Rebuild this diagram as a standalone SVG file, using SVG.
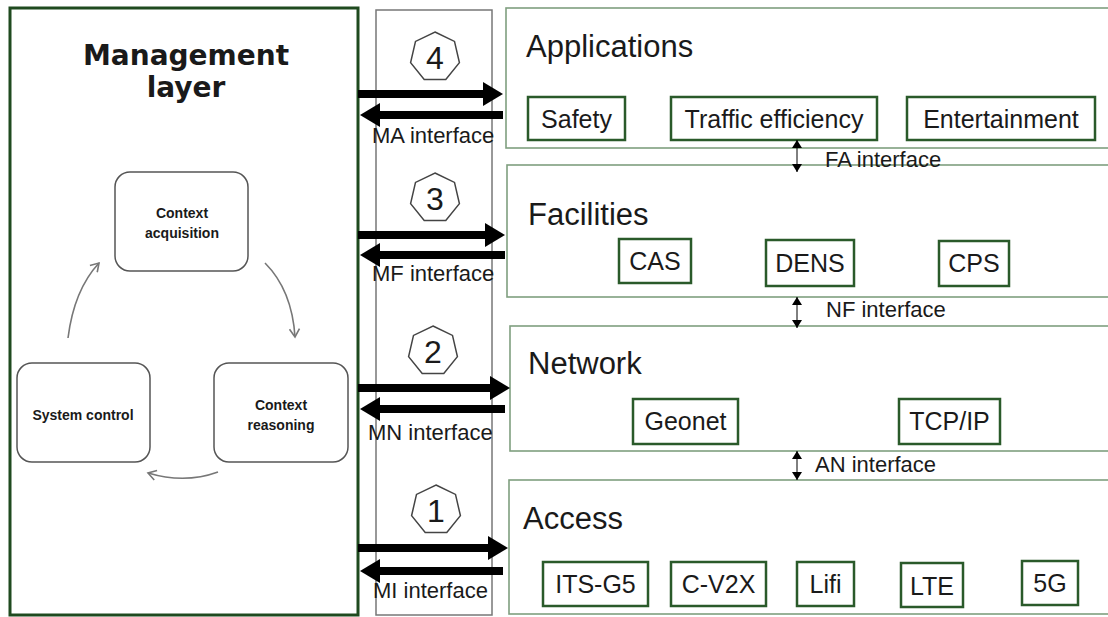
<svg xmlns="http://www.w3.org/2000/svg" width="1108" height="617" viewBox="0 0 1108 617">
<style>
text{font-family:"Liberation Sans",Arial,sans-serif;fill:#1a1a1a}
.mgmt{fill:#fff;stroke:#1f4a1f;stroke-width:3}
.col{fill:none;stroke:#777;stroke-width:1.5}
.layer{fill:#fff;stroke:#7f9f7f;stroke-width:1.6}
.sub{fill:#fff;stroke:#2a5a2a;stroke-width:2.5}
.inner{fill:#fff;stroke:#555;stroke-width:1.5}
.title{font-size:31px}
.subt{font-size:25px;text-anchor:middle}
.lbl{font-size:22px}
.ib{font-size:14px;font-weight:bold;text-anchor:middle}
.hept{fill:#fff;stroke:#444;stroke-width:1.5}
.num{font-size:32px;text-anchor:middle}
.thick{stroke:#000;stroke-width:8;fill:none}
.thin{stroke:#000;stroke-width:1;fill:none}
.curve{stroke:#777;stroke-width:1.6;fill:none}
</style>
<defs>
<marker id="bigHead" markerUnits="userSpaceOnUse" markerWidth="20" markerHeight="24" refX="0" refY="12" orient="auto">
<path d="M0,0 L20,12 L0,24 z" fill="#000"/>
</marker>
<marker id="smallHead" markerUnits="userSpaceOnUse" markerWidth="8" markerHeight="10" refX="8" refY="5" orient="auto-start-reverse">
<path d="M0,0 L8,5 L0,10 z" fill="#000"/>
</marker>
<marker id="openHead" markerUnits="userSpaceOnUse" markerWidth="12" markerHeight="12" refX="9" refY="6" orient="auto">
<path d="M1,1 L9,6 L1,11" fill="none" stroke="#777" stroke-width="1.6"/>
</marker>
<polygon id="hep" points="0,-25 19.5,-15.6 24.4,5.6 10.8,22.5 -10.8,22.5 -24.4,5.6 -19.5,-15.6"/>
</defs>

<g id="management">
<rect class="mgmt" x="10" y="8" width="348" height="607"/>
<text x="186" y="65" text-anchor="middle" style="font-family:'DejaVu Sans',Verdana,sans-serif;font-size:28px;font-weight:bold">Management</text>
<text x="186" y="97" text-anchor="middle" style="font-family:'DejaVu Sans',Verdana,sans-serif;font-size:28px;font-weight:bold">layer</text>
</g>
<g id="context-acquisition">
<rect class="inner" x="115" y="172" width="133" height="99" rx="15"/>
<text class="ib" x="182" y="218">Context</text>
<text class="ib" x="182" y="238">acquisition</text>
</g>
<g id="system-control">
<rect class="inner" x="17" y="363" width="133" height="99" rx="15"/>
<text class="ib" x="83" y="420">System control</text>
</g>
<g id="context-reasoning">
<rect class="inner" x="214" y="363" width="134" height="99" rx="15"/>
<text class="ib" x="281" y="410">Context</text>
<text class="ib" x="281" y="430">reasoning</text>
</g>

<g id="interface-column">
<rect class="col" x="376" y="10" width="116" height="605"/>
</g>

<g id="applications">
<rect class="layer" x="506" y="8" width="610" height="140"/>
<text class="title" x="526" y="57">Applications</text>
<rect class="sub" x="528" y="97" width="97" height="43"/>
<text class="subt" x="576.5" y="128">Safety</text>
<rect class="sub" x="671" y="97" width="206" height="43"/>
<text class="subt" x="774" y="128">Traffic efficiency</text>
<rect class="sub" x="907" y="97" width="188" height="43"/>
<text class="subt" x="1001" y="128">Entertainment</text>
</g>

<g id="facilities">
<rect class="layer" x="507" y="165" width="610" height="132"/>
<text class="title" x="528" y="225">Facilities</text>
<rect class="sub" x="619" y="239" width="72" height="44"/>
<text class="subt" x="655" y="270">CAS</text>
<rect class="sub" x="766" y="240" width="88" height="46"/>
<text class="subt" x="810" y="272">DENS</text>
<rect class="sub" x="939" y="241" width="70" height="45"/>
<text class="subt" x="974" y="272">CPS</text>
</g>

<g id="network">
<rect class="layer" x="510" y="326" width="610" height="125"/>
<text class="title" x="528" y="374">Network</text>
<rect class="sub" x="633" y="399" width="105" height="45"/>
<text class="subt" x="685.5" y="430">Geonet</text>
<rect class="sub" x="899" y="399" width="101" height="45"/>
<text class="subt" x="949.5" y="430">TCP/IP</text>
</g>

<g id="access">
<rect class="layer" x="509" y="480" width="610" height="134"/>
<text class="title" x="523" y="529">Access</text>
<rect class="sub" x="543" y="562" width="105" height="44"/>
<text class="subt" x="595.5" y="593">ITS-G5</text>
<rect class="sub" x="671" y="562" width="95" height="44"/>
<text class="subt" x="718.5" y="593">C-V2X</text>
<rect class="sub" x="797" y="562" width="57" height="44"/>
<text class="subt" x="825.5" y="593">Lifi</text>
<rect class="sub" x="901" y="563" width="62" height="44"/>
<text class="subt" x="932" y="595">LTE</text>
<rect class="sub" x="1022" y="561" width="56" height="44"/>
<text class="subt" x="1050" y="592">5G</text>
</g>

<g id="hept-4"><use href="#hep" class="hept" x="435" y="57"/><text class="num" x="435" y="69">4</text></g>
<g id="hept-3"><use href="#hep" class="hept" x="435" y="198"/><text class="num" x="435" y="210">3</text></g>
<g id="hept-2"><use href="#hep" class="hept" x="433" y="351"/><text class="num" x="433" y="363">2</text></g>
<g id="hept-1"><use href="#hep" class="hept" x="436" y="510"/><text class="num" x="436" y="522">1</text></g>

<g id="connectors">
<path class="curve" d="M68,338 Q74,290 99,263" marker-end="url(#openHead)"/>
<path class="curve" d="M265,263 Q292,290 295,337" marker-end="url(#openHead)"/>
<path class="curve" d="M218,472 Q185,484 148,473" marker-end="url(#openHead)"/>

<line class="thick" x1="358" y1="94" x2="483" y2="94" marker-end="url(#bigHead)"/>
<line class="thick" x1="503" y1="115" x2="380" y2="115" marker-end="url(#bigHead)"/>
<line class="thick" x1="358" y1="235" x2="485" y2="235" marker-end="url(#bigHead)"/>
<line class="thick" x1="505" y1="255" x2="380" y2="255" marker-end="url(#bigHead)"/>
<line class="thick" x1="358" y1="388" x2="490" y2="388" marker-end="url(#bigHead)"/>
<line class="thick" x1="505" y1="409" x2="380" y2="409" marker-end="url(#bigHead)"/>
<line class="thick" x1="358" y1="548" x2="488" y2="548" marker-end="url(#bigHead)"/>
<line class="thick" x1="503" y1="571" x2="380" y2="571" marker-end="url(#bigHead)"/>

<line class="thin" x1="797" y1="140" x2="797" y2="172" marker-start="url(#smallHead)" marker-end="url(#smallHead)"/>
<line class="thin" x1="797" y1="297" x2="797" y2="328" marker-start="url(#smallHead)" marker-end="url(#smallHead)"/>
<line class="thin" x1="797" y1="451" x2="797" y2="480" marker-start="url(#smallHead)" marker-end="url(#smallHead)"/>

<text class="lbl" x="372" y="143">MA interface</text>
<text class="lbl" x="372" y="281">MF interface</text>
<text class="lbl" x="368" y="440">MN interface</text>
<text class="lbl" x="373" y="598">MI interface</text>
<text class="lbl" x="825" y="167">FA interface</text>
<text class="lbl" x="826" y="317">NF interface</text>
<text class="lbl" x="815" y="472">AN interface</text>
</g>
</svg>
